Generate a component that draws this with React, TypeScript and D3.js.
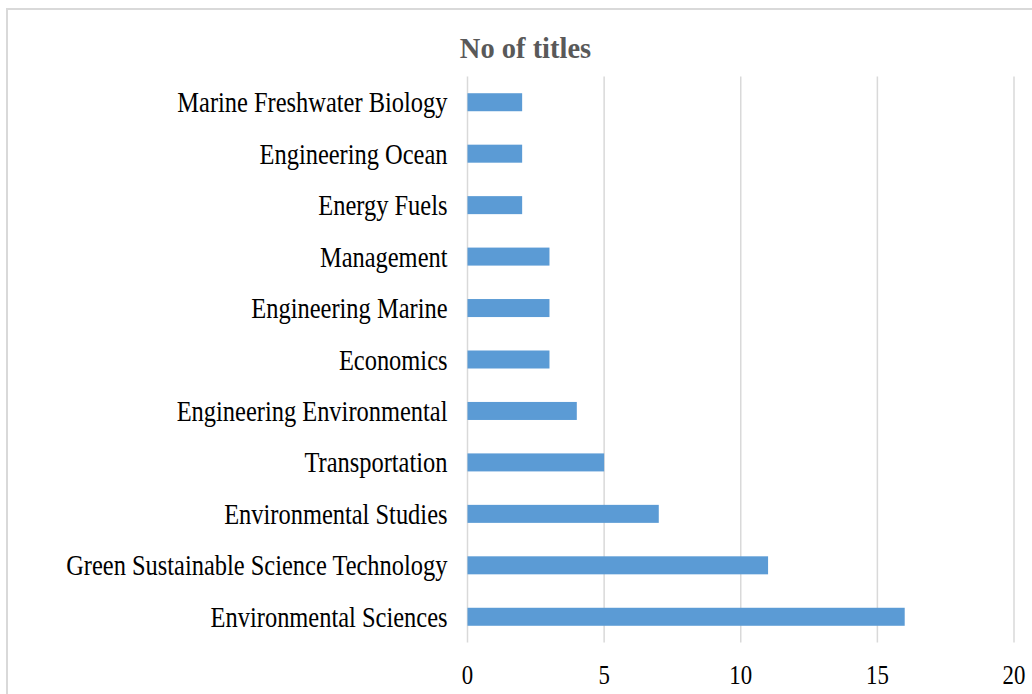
import React from "react";
import * as d3 from "d3";

const categories = [
  "Marine Freshwater Biology",
  "Engineering Ocean",
  "Energy Fuels",
  "Management",
  "Engineering Marine",
  "Economics",
  "Engineering Environmental",
  "Transportation",
  "Environmental Studies",
  "Green Sustainable Science Technology",
  "Environmental Sciences",
];
const titleCounts = [2, 2, 2, 3, 3, 3, 4, 5, 7, 11, 16];
const xTicks = [0, 5, 10, 15, 20];
const chartTitle = "No of titles";

const W = 1032;
const H = 694;
const plot = { left: 467.5, right: 1014, top: 76.5, bottom: 642.5 };
// narrow text rendering: glyphs are squeezed horizontally
const squeeze = 0.815;

export default function App() {
  const x = d3.scaleLinear().domain([0, 20]).range([plot.left, plot.right]);
  const y = d3
    .scaleBand<string>()
    .domain(categories)
    .range([plot.top, plot.bottom])
    .paddingInner(0.65)
    .paddingOuter(0.325);

  const serif = "'Liberation Serif', 'Times New Roman', serif";

  return (
    <svg
      width={W}
      height={H}
      style={{ position: "absolute", left: 0, top: 0, display: "block", background: "#fff" }}
    >
      <rect x={7} y={9} width={W + 20} height={H + 20} fill="#fff" stroke="#d9d9d9" strokeWidth={2} />
      <g transform={`translate(525.5,58) scale(0.95,1)`}>
        <text
          textAnchor="middle"
          fontFamily={serif}
          fontWeight="bold"
          fontSize={30}
          fill="#595959"
        >
          {chartTitle}
        </text>
      </g>
      {xTicks.map((t) => (
        <line
          key={"g" + t}
          x1={x(t)}
          x2={x(t)}
          y1={plot.top}
          y2={plot.bottom}
          stroke="#d9d9d9"
          strokeWidth={1.5}
        />
      ))}
      {categories.map((c, i) => (
        <rect
          key={c}
          x={x(0)}
          y={y(c)!}
          width={x(titleCounts[i]) - x(0)}
          height={y.bandwidth()}
          fill="#5b9bd5"
        />
      ))}
      {categories.map((c) => (
        <g
          key={"l" + c}
          transform={`translate(${plot.left - 20},${y(c)! + y.bandwidth() / 2 + 10}) scale(${squeeze},1)`}
        >
          <text textAnchor="end" fontFamily={serif} fontSize={30} fill="#000">
            {c}
          </text>
        </g>
      ))}
      {xTicks.map((t) => (
        <g key={"t" + t} transform={`translate(${x(t)},684) scale(${squeeze},1)`}>
          <text textAnchor="middle" fontFamily={serif} fontSize={28} fill="#000">
            {t}
          </text>
        </g>
      ))}
    </svg>
  );
}
